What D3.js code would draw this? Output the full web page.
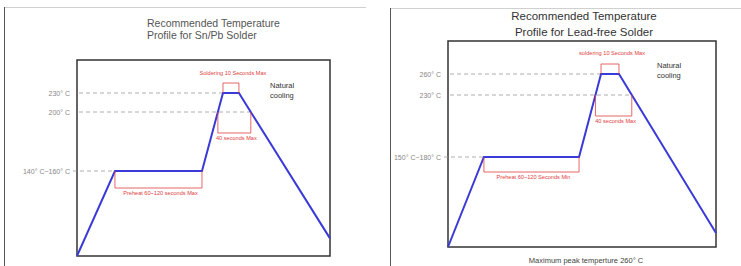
<!DOCTYPE html>
<html>
<head>
<meta charset="utf-8">
<script src="https://cdn.jsdelivr.net/npm/d3@7"></script>
<style>
  body { margin: 0; background: #fff; }
  svg { display: block; font-family: "Liberation Sans", Arial, sans-serif; }
</style>
</head>
<body>
<div id="chart"></div>
<script>
// profile x positions (percent of box width) and temperatures
var snpbTime = [0, 15, 49.4, 57.7, 64, 100];
var snpbTemp = [25, 160, 160, 230, 230, 53];
var snpbLevels = [230, 200, 160];
var snpbLabels = ["230° C", "200° C", "140° C~160° C"];

var leadTime = [0, 13.4, 48.9, 57.1, 63.8, 100];
var leadTemp = [25, 180, 180, 260, 260, 49];
var leadLevels = [260, 230, 180];
var leadLabels = ["260° C", "230° C", "150° C~180° C"];

var panels = [
  {
    title: ["Recommended Temperature", "Profile for Sn/Pb Solder"],
    titleX: 147, titleAnchor: "start", titleY: [27, 39], titleSize: 10.5, titleColor: "#555",
    frame: { x: 4, y: 7, w: 362 },
    box: { x0: 77, x1: 330, y0: 60, y1: 256 },
    yDomain: [25, 160, 200, 230], yRange: [256, 171, 112, 93],
    time: snpbTime, temp: snpbTemp, levels: snpbLevels, labels: snpbLabels,
    labelX: 70,
    solder: "Soldering 10 Seconds Max", solderY: 75, solderBar: 83,
    forty: "40 seconds Max", fortyBar: 133,
    preheat: "Preheat 60~120 seconds Max", preheatBar: 188,
    cool: { x: 270, y: 88 },
    note: null
  },
  {
    title: ["Recommended Temperature", "Profile for Lead-free Solder"],
    titleX: 584, titleAnchor: "middle", titleY: [20, 36], titleSize: 11.5, titleColor: "#333",
    frame: { x: 390, y: 8, w: 351 },
    box: { x0: 448, x1: 716, y0: 41, y1: 247 },
    yDomain: [25, 180, 230, 260], yRange: [247, 157, 95, 74],
    time: leadTime, temp: leadTemp, levels: leadLevels, labels: leadLabels,
    labelX: 441,
    solder: "soldering 10 Seconds Max", solderY: 55, solderBar: 64,
    forty: "40 seconds Max", fortyBar: 116,
    preheat: "Preheat 60~120 Seconds Min", preheatBar: 172,
    cool: { x: 657, y: 68 },
    note: "Maximum peak temperture 260° C"
  }
];

var svg = d3.select("#chart").append("svg")
  .attr("width", 741)
  .attr("height", 266);

var red = "#e04040";

panels.forEach(function (p) {
  var x = d3.scaleLinear().domain([0, 100]).range([p.box.x0, p.box.x1]);
  var y = d3.scaleLinear().domain(p.yDomain).range(p.yRange);
  var pts = p.time.map(function (t, i) { return [x(t), y(p.temp[i])]; });

  // x where a temperature level crosses segment i -> i+1
  function cross(i, temp) {
    var a = pts[i], b = pts[i + 1], yy = y(temp);
    return a[0] + (yy - a[1]) / (b[1] - a[1]) * (b[0] - a[0]);
  }

  var g = svg.append("g");

  // page frame
  g.append("line")
    .attr("x1", p.frame.x).attr("x2", p.frame.x + p.frame.w)
    .attr("y1", p.frame.y + 0.5).attr("y2", p.frame.y + 0.5)
    .attr("stroke", "#d0d0d0");
  g.append("line")
    .attr("x1", p.frame.x + 0.5).attr("x2", p.frame.x + 0.5)
    .attr("y1", p.frame.y).attr("y2", 266)
    .attr("stroke", "#555");

  // title
  g.selectAll(".title").data(p.title).enter().append("text")
    .attr("x", p.titleX)
    .attr("y", function (d, i) { return p.titleY[i]; })
    .attr("text-anchor", p.titleAnchor)
    .attr("font-size", p.titleSize)
    .attr("fill", p.titleColor)
    .text(function (d) { return d; });

  // plot box
  g.append("rect")
    .attr("x", p.box.x0).attr("y", p.box.y0)
    .attr("width", p.box.x1 - p.box.x0).attr("height", p.box.y1 - p.box.y0)
    .attr("fill", "none").attr("stroke", "#333").attr("stroke-width", 1.5);

  // dashed level lines: peak ends at peak start, 2nd at cooling side, preheat at plateau start
  var ends = [pts[3][0], cross(4, p.levels[1]), pts[1][0]];
  g.selectAll(".lvl").data(p.levels).enter().append("line")
    .attr("x1", function (d, i) { return i === 2 ? p.box.x0 - 4 : p.box.x0 + 2; })
    .attr("x2", function (d, i) { return ends[i]; })
    .attr("y1", function (d) { return y(d); })
    .attr("y2", function (d) { return y(d); })
    .attr("stroke", "#999").attr("stroke-width", 0.8)
    .attr("stroke-dasharray", "4,3");

  g.selectAll(".lbl").data(p.labels).enter().append("text")
    .attr("x", p.labelX)
    .attr("y", function (d, i) { return y(p.levels[i]) + 2.5; })
    .attr("text-anchor", "end")
    .attr("font-size", 7)
    .attr("fill", "#888")
    .text(function (d) { return d; });

  // profile line
  g.append("path")
    .attr("d", d3.line()(pts))
    .attr("fill", "none")
    .attr("stroke", "#3a3ad8")
    .attr("stroke-width", 2);

  // red brackets
  function bracket(xa, xb, yTop, yBar) {
    var r = g.append("g").attr("stroke", red).attr("stroke-width", 0.8).attr("fill", "none");
    r.append("line").attr("x1", xa).attr("x2", xa).attr("y1", yTop).attr("y2", yBar);
    r.append("line").attr("x1", xb).attr("x2", xb).attr("y1", yTop).attr("y2", yBar);
    r.append("line").attr("x1", xa).attr("x2", xb).attr("y1", yBar).attr("y2", yBar);
  }
  function redText(t, cx, cy) {
    g.append("text").attr("x", cx).attr("y", cy)
      .attr("text-anchor", "middle").attr("font-size", 5.6)
      .attr("fill", red).text(t);
  }

  var peakY = y(p.levels[0]);
  bracket(pts[3][0], pts[4][0], peakY, p.solderBar);
  redText(p.solder, (pts[3][0] + pts[4][0]) / 2 + 2, p.solderY);

  var lx = cross(2, p.levels[1]), rx = cross(4, p.levels[1]);
  bracket(lx, rx, y(p.levels[1]), p.fortyBar);
  redText(p.forty, (lx + rx) / 2 + 2, p.fortyBar + 7);

  var plat = y(p.levels[2]);
  bracket(pts[1][0], pts[2][0], plat, p.preheatBar);
  redText(p.preheat, (pts[1][0] + pts[2][0]) / 2 + 2, p.preheatBar + 7);

  // natural cooling
  g.selectAll(".cool").data(["Natural", "cooling"]).enter().append("text")
    .attr("x", p.cool.x)
    .attr("y", function (d, i) { return p.cool.y + i * 10; })
    .attr("font-size", 7.5)
    .attr("fill", "#333")
    .text(function (d) { return d; });

  if (p.note) {
    g.append("text")
      .attr("x", (p.box.x0 + p.box.x1) / 2 + 4)
      .attr("y", 263)
      .attr("text-anchor", "middle")
      .attr("font-size", 7.5)
      .attr("fill", "#444")
      .text(p.note);
  }
});
</script>
</body>
</html>
